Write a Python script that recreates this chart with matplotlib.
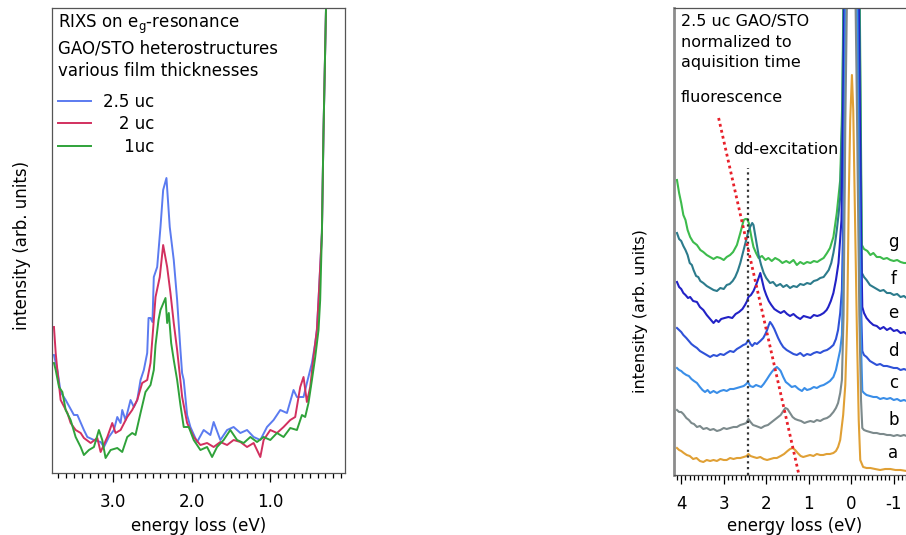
import numpy as np
import matplotlib
matplotlib.use('Agg')
import matplotlib.pyplot as plt
from matplotlib.ticker import MultipleLocator

plt.rcParams['font.family'] = ['DejaVu Sans']
plt.rcParams['font.size'] = 12
plt.rcParams['axes.unicode_minus'] = False

# --- left panel: thickness series (energy loss eV, intensity arb.) ---
uc25 = [(3.755, 1.18), (3.712, 1.03), (3.670, 0.81), (3.606, 0.73), (3.501, 0.58), (3.457, 0.58),
        (3.374, 0.43), (3.330, 0.36), (3.246, 0.33), (3.161, 0.31), (3.119, 0.26), (3.056, 0.36),
        (2.992, 0.43), (2.949, 0.56), (2.907, 0.50), (2.886, 0.63), (2.844, 0.53), (2.780, 0.73),
        (2.738, 0.66), (2.695, 0.73), (2.653, 0.93), (2.611, 1.03), (2.568, 1.20), (2.551, 1.55),
        (2.526, 1.55), (2.501, 1.51), (2.484, 1.96), (2.441, 2.06), (2.399, 2.46), (2.365, 2.83),
        (2.323, 2.95), (2.281, 2.46), (2.230, 2.13), (2.187, 1.73), (2.145, 1.23), (2.124, 1.00),
        (2.103, 0.93), (2.060, 0.58), (2.018, 0.46), (1.933, 0.31), (1.849, 0.43), (1.764, 0.38),
        (1.722, 0.51), (1.637, 0.33), (1.551, 0.43), (1.468, 0.46), (1.382, 0.40), (1.297, 0.43),
        (1.213, 0.36), (1.128, 0.33), (1.043, 0.46), (0.959, 0.53), (0.874, 0.63), (0.789, 0.60),
        (0.705, 0.83), (0.662, 0.76), (0.578, 0.76), (0.535, 0.90), (0.471, 1.10), (0.429, 1.30),
        (0.408, 1.43), (0.387, 1.73), (0.344, 2.40), (0.324, 3.40), (0.293, 4.60), (0.277, 5.13)]
uc2 = [(3.755, 1.46), (3.733, 1.20), (3.712, 1.03), (3.670, 0.73), (3.584, 0.60), (3.543, 0.50),
       (3.479, 0.43), (3.415, 0.40), (3.374, 0.35), (3.288, 0.30), (3.203, 0.35), (3.161, 0.21),
       (3.076, 0.36), (3.013, 0.50), (2.971, 0.40), (2.907, 0.43), (2.822, 0.56), (2.759, 0.63),
       (2.695, 0.73), (2.632, 0.90), (2.568, 0.93), (2.526, 1.10), (2.484, 1.53), (2.462, 1.76),
       (2.408, 1.96), (2.365, 2.28), (2.314, 2.06), (2.272, 1.80), (2.230, 1.50), (2.187, 1.23),
       (2.123, 0.76), (2.060, 0.50), (1.976, 0.36), (1.891, 0.28), (1.806, 0.30), (1.722, 0.26),
       (1.637, 0.31), (1.551, 0.28), (1.468, 0.33), (1.382, 0.31), (1.297, 0.26), (1.213, 0.30),
       (1.128, 0.16), (1.086, 0.33), (1.001, 0.43), (0.916, 0.40), (0.832, 0.46), (0.747, 0.53),
       (0.684, 0.56), (0.620, 0.86), (0.578, 0.96), (0.535, 0.71), (0.493, 0.86), (0.451, 1.16),
       (0.408, 1.43), (0.387, 1.73), (0.344, 2.40), (0.324, 3.40), (0.293, 4.60), (0.277, 5.13)]
uc1 = [(3.755, 1.10), (3.733, 1.03), (3.691, 0.86), (3.648, 0.81), (3.606, 0.63), (3.543, 0.53),
       (3.479, 0.36), (3.415, 0.26), (3.374, 0.18), (3.310, 0.23), (3.246, 0.26), (3.183, 0.43),
       (3.140, 0.33), (3.098, 0.15), (3.034, 0.23), (2.949, 0.25), (2.886, 0.21), (2.822, 0.36),
       (2.759, 0.40), (2.717, 0.38), (2.653, 0.60), (2.590, 0.81), (2.526, 0.88), (2.484, 1.03),
       (2.462, 1.28), (2.424, 1.53), (2.399, 1.63), (2.335, 1.75), (2.314, 1.50), (2.293, 1.60),
       (2.263, 1.30), (2.230, 1.13), (2.187, 0.93), (2.145, 0.68), (2.103, 0.46), (2.039, 0.46),
       (1.976, 0.33), (1.891, 0.23), (1.806, 0.26), (1.742, 0.16), (1.679, 0.26), (1.595, 0.33),
       (1.510, 0.43), (1.424, 0.33), (1.340, 0.30), (1.255, 0.36), (1.170, 0.31), (1.086, 0.36),
       (1.001, 0.33), (0.916, 0.40), (0.832, 0.36), (0.747, 0.45), (0.662, 0.43), (0.598, 0.58),
       (0.557, 0.56), (0.515, 0.70), (0.471, 0.93), (0.429, 1.16), (0.387, 1.43), (0.366, 1.73),
       (0.344, 2.40), (0.324, 3.40), (0.293, 4.60), (0.277, 5.13)]
LEFT_LABELS = ['2.5 uc', '\u2008\u20072 uc', '\u2008\u2007 1uc']
LEFT_COLORS = ['#5b7bf0', '#d2305f', '#2fa23a']
LEFT_TICKS = [3.0, 2.0, 1.0]

# --- right panel: 2.5 uc spectra a..g ---
sp_g = [(4.10, 2.95), (4.05, 2.82), (4.00, 2.72), (3.95, 2.60), (3.90, 2.55), (3.85, 2.45), (3.79, 2.38),
        (3.72, 2.33), (3.63, 2.30), (3.55, 2.25), (3.48, 2.23), (3.40, 2.20), (3.32, 2.18), (3.24, 2.16),
        (3.16, 2.18), (3.08, 2.17), (3.00, 2.15), (2.93, 2.18), (2.85, 2.20), (2.78, 2.23), (2.69, 2.30),
        (2.61, 2.42), (2.53, 2.55), (2.49, 2.56), (2.45, 2.56), (2.41, 2.52), (2.38, 2.45), (2.34, 2.36),
        (2.30, 2.28), (2.24, 2.22), (2.18, 2.17), (2.10, 2.19), (2.02, 2.15), (1.95, 2.17), (1.87, 2.14),
        (1.79, 2.17), (1.70, 2.15), (1.62, 2.12), (1.53, 2.14), (1.45, 2.12), (1.36, 2.15), (1.28, 2.10),
        (1.20, 2.13), (1.12, 2.11), (1.04, 2.13), (0.96, 2.12), (0.88, 2.14), (0.80, 2.13), (0.73, 2.15),
        (0.65, 2.17), (0.57, 2.22), (0.50, 2.27), (0.42, 2.38), (0.34, 2.62), (0.26, 2.95), (0.21, 3.75),
        (0.16, 5.75), (0.08, 9.75), (0.0, 12.75), (-0.10, 9.75), (-0.18, 5.75), (-0.22, 3.75),
        (-0.25, 2.30), (-0.30, 2.26), (-0.38, 2.24), (-0.45, 2.20), (-0.52, 2.22), (-0.60, 2.18),
        (-0.68, 2.18), (-0.76, 2.16), (-0.84, 2.17), (-0.92, 2.15), (-1.00, 2.14), (-1.08, 2.15),
        (-1.16, 2.13), (-1.24, 2.12), (-1.30, 2.12)]
sp_f = [(4.10, 2.42), (4.05, 2.36), (4.00, 2.34), (3.95, 2.29), (3.90, 2.25), (3.85, 2.20), (3.80, 2.12),
        (3.75, 2.10), (3.71, 2.05), (3.65, 1.99), (3.60, 1.98), (3.55, 1.94), (3.48, 1.92), (3.40, 1.89),
        (3.32, 1.87), (3.24, 1.85), (3.16, 1.84), (3.08, 1.87), (3.00, 1.86), (2.93, 1.90), (2.86, 1.91),
        (2.79, 1.94), (2.73, 1.98), (2.67, 2.04), (2.61, 2.12), (2.55, 2.22), (2.49, 2.32), (2.43, 2.42),
        (2.38, 2.48), (2.33, 2.52), (2.30, 2.50), (2.26, 2.40), (2.22, 2.30), (2.18, 2.20), (2.12, 2.10),
        (2.06, 2.02), (2.00, 1.97), (1.91, 1.92), (1.84, 1.93), (1.76, 1.89), (1.67, 1.91), (1.60, 1.88),
        (1.52, 1.90), (1.44, 1.87), (1.36, 1.89), (1.28, 1.88), (1.20, 1.91), (1.12, 1.90), (1.04, 1.92),
        (0.96, 1.91), (0.88, 1.94), (0.80, 1.95), (0.73, 1.97), (0.65, 1.98), (0.58, 2.02), (0.53, 2.05),
        (0.47, 2.12), (0.42, 2.22), (0.38, 2.32), (0.34, 2.45), (0.30, 2.60), (0.26, 2.78), (0.21, 3.6),
        (0.16, 5.5), (0.08, 9.0), (0.0, 12.0), (-0.10, 9.0), (-0.18, 5.5), (-0.22, 3.4), (-0.25, 2.02),
        (-0.30, 1.98), (-0.36, 1.95), (-0.44, 1.90), (-0.52, 1.88), (-0.60, 1.86), (-0.68, 1.84),
        (-0.76, 1.85), (-0.84, 1.82), (-0.92, 1.82), (-1.00, 1.80), (-1.08, 1.81), (-1.16, 1.78),
        (-1.24, 1.79), (-1.30, 1.77)]
sp_e = [(4.10, 1.93), (4.05, 1.88), (4.00, 1.86), (3.95, 1.82), (3.90, 1.80), (3.84, 1.77), (3.79, 1.78),
        (3.72, 1.74), (3.63, 1.73), (3.56, 1.68), (3.48, 1.65), (3.40, 1.60), (3.32, 1.56), (3.24, 1.52),
        (3.18, 1.55), (3.12, 1.53), (3.06, 1.56), (2.98, 1.57), (2.89, 1.58), (2.80, 1.57), (2.72, 1.61),
        (2.64, 1.63), (2.56, 1.66), (2.50, 1.70), (2.45, 1.74), (2.42, 1.78), (2.36, 1.80), (2.30, 1.84),
        (2.24, 1.90), (2.18, 1.97), (2.14, 2.02), (2.10, 1.95), (2.05, 1.86), (2.00, 1.80), (1.94, 1.74),
        (1.88, 1.70), (1.81, 1.66), (1.74, 1.64), (1.66, 1.62), (1.58, 1.64), (1.51, 1.61), (1.44, 1.59),
        (1.36, 1.61), (1.28, 1.58), (1.20, 1.56), (1.12, 1.59), (1.04, 1.58), (0.96, 1.57), (0.88, 1.60),
        (0.80, 1.59), (0.73, 1.60), (0.65, 1.62), (0.58, 1.65), (0.54, 1.68), (0.48, 1.74), (0.42, 1.82),
        (0.36, 1.95), (0.30, 2.12), (0.23, 2.55), (0.18, 4.0), (0.11, 7.0), (0.0, 11.0), (-0.11, 7.5),
        (-0.19, 4.2), (-0.23, 2.4), (-0.26, 1.68), (-0.30, 1.62), (-0.36, 1.57), (-0.44, 1.53),
        (-0.52, 1.50), (-0.60, 1.49), (-0.68, 1.46), (-0.76, 1.48), (-0.84, 1.45), (-0.92, 1.47),
        (-1.00, 1.44), (-1.08, 1.45), (-1.16, 1.42), (-1.24, 1.43), (-1.30, 1.41)]
sp_d = [(4.10, 1.47), (4.05, 1.45), (4.00, 1.43), (3.95, 1.40), (3.88, 1.37), (3.82, 1.34), (3.76, 1.31),
        (3.70, 1.29), (3.63, 1.27), (3.56, 1.24), (3.48, 1.22), (3.40, 1.20), (3.32, 1.18), (3.24, 1.20),
        (3.16, 1.19), (3.08, 1.21), (3.00, 1.20), (2.93, 1.22), (2.85, 1.24), (2.77, 1.23), (2.69, 1.26),
        (2.61, 1.28), (2.54, 1.30), (2.48, 1.31), (2.42, 1.35), (2.37, 1.31), (2.33, 1.29), (2.27, 1.32),
        (2.22, 1.31), (2.14, 1.34), (2.07, 1.37), (2.02, 1.41), (1.98, 1.45), (1.94, 1.50), (1.91, 1.53),
        (1.86, 1.50), (1.81, 1.46), (1.76, 1.41), (1.72, 1.37), (1.66, 1.32), (1.60, 1.28), (1.52, 1.25),
        (1.44, 1.23), (1.36, 1.21), (1.28, 1.20), (1.20, 1.22), (1.12, 1.19), (1.04, 1.21), (0.96, 1.20),
        (0.88, 1.22), (0.81, 1.23), (0.73, 1.22), (0.65, 1.24), (0.57, 1.25), (0.50, 1.27), (0.42, 1.30),
        (0.36, 1.36), (0.31, 1.45), (0.26, 1.62), (0.22, 1.85), (0.18, 2.75), (0.12, 5.5), (0.0, 10.0),
        (-0.12, 6.0), (-0.19, 3.0), (-0.23, 1.7), (-0.26, 1.24), (-0.30, 1.20), (-0.36, 1.18),
        (-0.44, 1.14), (-0.52, 1.12), (-0.60, 1.10), (-0.68, 1.11), (-0.76, 1.09), (-0.84, 1.09),
        (-0.92, 1.08), (-1.00, 1.07), (-1.08, 1.07), (-1.16, 1.05), (-1.24, 1.06), (-1.30, 1.05)]
sp_c = [(4.10, 1.07), (4.05, 1.05), (4.00, 1.04), (3.95, 1.02), (3.88, 1.00), (3.82, 0.99), (3.76, 0.96),
        (3.70, 0.94), (3.63, 0.92), (3.56, 0.88), (3.50, 0.85), (3.44, 0.83), (3.38, 0.85), (3.32, 0.82),
        (3.24, 0.84), (3.16, 0.82), (3.08, 0.84), (3.00, 0.85), (2.93, 0.84), (2.85, 0.86), (2.77, 0.86),
        (2.69, 0.87), (2.61, 0.88), (2.53, 0.89), (2.47, 0.91), (2.43, 0.93), (2.38, 0.89), (2.31, 0.88),
        (2.24, 0.90), (2.18, 0.89), (2.12, 0.88), (2.06, 0.91), (1.98, 0.96), (1.92, 1.00), (1.87, 1.03),
        (1.81, 1.06), (1.75, 1.08), (1.70, 1.06), (1.66, 1.04), (1.60, 0.98), (1.54, 0.93), (1.48, 0.91),
        (1.40, 0.88), (1.32, 0.89), (1.24, 0.86), (1.16, 0.84), (1.10, 0.87), (1.04, 0.85), (0.96, 0.86),
        (0.88, 0.88), (0.81, 0.87), (0.73, 0.89), (0.65, 0.90), (0.57, 0.92), (0.50, 0.94), (0.42, 0.98),
        (0.36, 1.05), (0.31, 1.15), (0.26, 1.25), (0.22, 1.40), (0.18, 2.2), (0.13, 4.8), (0.0, 9.0),
        (-0.12, 5.2), (-0.19, 2.6), (-0.23, 1.3), (-0.26, 0.84), (-0.30, 0.82), (-0.36, 0.80),
        (-0.44, 0.79), (-0.52, 0.78), (-0.60, 0.78), (-0.68, 0.76), (-0.76, 0.77), (-0.84, 0.76),
        (-0.92, 0.77), (-1.00, 0.75), (-1.08, 0.76), (-1.16, 0.74), (-1.24, 0.75), (-1.30, 0.74)]
sp_b = [(4.10, 0.65), (4.05, 0.63), (4.00, 0.63), (3.95, 0.61), (3.88, 0.57), (3.82, 0.55), (3.76, 0.52),
        (3.70, 0.51), (3.63, 0.48), (3.56, 0.49), (3.48, 0.46), (3.40, 0.47), (3.32, 0.45), (3.24, 0.46),
        (3.16, 0.44), (3.08, 0.45), (3.00, 0.47), (2.93, 0.46), (2.85, 0.47), (2.77, 0.48), (2.69, 0.48),
        (2.61, 0.50), (2.53, 0.51), (2.47, 0.52), (2.42, 0.56), (2.37, 0.53), (2.31, 0.50), (2.24, 0.49),
        (2.18, 0.48), (2.12, 0.47), (2.04, 0.49), (1.96, 0.50), (1.90, 0.52), (1.84, 0.54), (1.78, 0.56),
        (1.72, 0.58), (1.66, 0.60), (1.60, 0.64), (1.55, 0.67), (1.50, 0.66), (1.44, 0.62), (1.38, 0.58),
        (1.32, 0.56), (1.26, 0.55), (1.18, 0.54), (1.10, 0.52), (1.04, 0.53), (0.96, 0.54), (0.88, 0.53),
        (0.81, 0.55), (0.73, 0.54), (0.65, 0.56), (0.57, 0.57), (0.50, 0.59), (0.42, 0.63), (0.36, 0.67),
        (0.31, 0.72), (0.26, 0.82), (0.22, 0.95), (0.18, 1.6), (0.14, 3.5), (0.0, 8.0), (-0.13, 3.8),
        (-0.19, 1.6), (-0.23, 0.75), (-0.26, 0.47), (-0.30, 0.45), (-0.36, 0.44), (-0.44, 0.43),
        (-0.52, 0.42), (-0.60, 0.42), (-0.68, 0.41), (-0.76, 0.41), (-0.84, 0.40), (-0.92, 0.40),
        (-1.00, 0.39), (-1.08, 0.40), (-1.16, 0.39), (-1.24, 0.40), (-1.30, 0.39)]
sp_a = [(4.10, 0.27), (4.05, 0.25), (4.00, 0.24), (3.94, 0.22), (3.87, 0.20), (3.80, 0.19), (3.72, 0.16),
        (3.64, 0.17), (3.56, 0.14), (3.48, 0.13), (3.40, 0.15), (3.32, 0.14), (3.24, 0.15), (3.16, 0.14),
        (3.08, 0.16), (3.00, 0.15), (2.93, 0.15), (2.85, 0.17), (2.77, 0.16), (2.69, 0.17), (2.61, 0.17),
        (2.53, 0.18), (2.46, 0.19), (2.42, 0.21), (2.37, 0.19), (2.30, 0.18), (2.22, 0.17), (2.14, 0.18),
        (2.06, 0.16), (1.98, 0.15), (1.90, 0.16), (1.82, 0.17), (1.75, 0.17), (1.66, 0.19), (1.58, 0.21),
        (1.50, 0.24), (1.44, 0.26), (1.38, 0.27), (1.32, 0.25), (1.26, 0.22), (1.19, 0.19), (1.13, 0.18),
        (1.05, 0.19), (0.97, 0.20), (0.89, 0.19), (0.81, 0.21), (0.73, 0.20), (0.66, 0.20), (0.58, 0.21),
        (0.50, 0.21), (0.42, 0.22), (0.36, 0.24), (0.31, 0.28), (0.26, 0.35), (0.19, 0.60), (0.14, 0.90),
        (0.094, 1.55), (0.059, 2.75), (0.024, 3.55), (-0.016, 4.00), (-0.047, 3.65), (-0.082, 2.75),
        (-0.134, 1.42), (-0.176, 0.55), (-0.212, 0.15), (-0.28, 0.08), (-0.36, 0.07), (-0.45, 0.07),
        (-0.56, 0.06), (-0.68, 0.05), (-0.80, 0.06), (-0.92, 0.06), (-1.04, 0.05), (-1.16, 0.05),
        (-1.30, 0.04)]
RIGHT_SPECTRA = [sp_g, sp_f, sp_e, sp_d, sp_c, sp_b, sp_a]
RIGHT_NAMES = ['g', 'f', 'e', 'd', 'c', 'b', 'a']
RIGHT_COLORS = ['#3dbb4c', '#2c7b8c', '#2222c6', '#2f52d8', '#3a8ee8', '#7c8a8c', '#e0a035']
NAME_LEVELS = [2.33, 1.96, 1.62, 1.24, 0.92, 0.55, 0.22]   # heights of the a..g tags
NAME_E = -0.99
DD_E = 2.42
DD_TOP = 3.07
FLUO_E = [3.12, 1.24]
FLUO_I = [3.57, 0.02]
RIGHT_TICKS = [4, 3, 2, 1, 0, -1]

fig = plt.figure(figsize=(9.06, 5.35), dpi=100)

# ---------- left panel ----------
ax1 = fig.add_axes([52 / 906, 62 / 535, 293 / 906, 465 / 535])
for pairs, col, lab in zip([uc25, uc2, uc1], LEFT_COLORS, LEFT_LABELS):
    e, i = np.array(pairs).T
    ax1.plot(e, i, color=col, lw=1.4, label=lab)
ax1.set_xlim(3.78, 0.05)
ax1.set_ylim(0, 4.65)
ax1.set_xticks(LEFT_TICKS)
ax1.set_xticklabels([f'{t:.1f}' for t in LEFT_TICKS])
ax1.xaxis.set_minor_locator(MultipleLocator(0.1))
ax1.set_yticks([])
ax1.tick_params(axis='x', which='major', direction='out', length=6.5, width=0.9, pad=8, labelsize=12)
ax1.tick_params(axis='x', which='minor', direction='out', length=3.5, width=0.9)
for s in ax1.spines.values():
    s.set_color('#555555')
    s.set_linewidth(0.9)
ax1.set_xlabel('energy loss (eV)', fontsize=12, labelpad=4)
ax1.set_ylabel('intensity (arb. units)', fontsize=12)
ax1.yaxis.set_label_coords(-0.072, 0.49)

ax1.text(0.02, 0.957, 'RIXS on e$_\\mathregular{g}$-resonance', transform=ax1.transAxes, va='baseline')
ax1.text(0.02, 0.903, 'GAO/STO heterostructures', transform=ax1.transAxes, va='baseline')
ax1.text(0.02, 0.854, 'various film thicknesses', transform=ax1.transAxes, va='baseline')
ax1.legend(loc='upper left', bbox_to_anchor=(0.02, 0.818), frameon=False, borderpad=0,
           borderaxespad=0, handlelength=2.0, handletextpad=0.7, labelspacing=0.28, fontsize=12)

# ---------- right panel ----------
ax2 = fig.add_axes([674 / 906, 60 / 535, 241 / 906, 467 / 535])
for pairs, col in zip(RIGHT_SPECTRA, RIGHT_COLORS):
    e, i = np.array(pairs).T
    ax2.plot(e, i, color=col, lw=1.5)
ax2.plot([DD_E, DD_E], [0, DD_TOP], color='#333333', lw=1.6, ls=(0, (1, 1.6)))
ax2.plot(FLUO_E, FLUO_I, color='#e8202a', lw=2.0, ls=(0, (1, 1.2)))
for nm, lv in zip(RIGHT_NAMES, NAME_LEVELS):
    ax2.text(NAME_E, lv, nm, ha='center', va='center', fontsize=12)

ax2.set_xlim(4.17, -1.5)
ax2.set_ylim(0, 4.67)
ax2.set_xticks(RIGHT_TICKS)
ax2.set_xticklabels([str(t) for t in RIGHT_TICKS])
ax2.xaxis.set_minor_locator(MultipleLocator(0.1))
ax2.set_yticks([])
ax2.tick_params(axis='x', which='major', direction='out', length=6.5, width=0.9, pad=8, labelsize=12)
ax2.tick_params(axis='x', which='minor', direction='out', length=3.5, width=0.9)
for s in ax2.spines.values():
    s.set_color('#555555')
    s.set_linewidth(0.9)
ax2.spines['left'].set_color('#8c8c8c')
ax2.spines['left'].set_linewidth(2.0)
ax2.set_xlabel('energy loss (eV)', fontsize=12, labelpad=3)
ax2.set_ylabel('intensity (arb. units)', fontsize=11.5)
ax2.yaxis.set_label_coords(-0.108, 0.35)

RT = 11.5
ax2.text(0.029, 0.961, '2.5 uc GAO/STO', transform=ax2.transAxes, va='baseline', fontsize=RT)
ax2.text(0.029, 0.9165, 'normalized to', transform=ax2.transAxes, va='baseline', fontsize=RT)
ax2.text(0.029, 0.874, 'aquisition time', transform=ax2.transAxes, va='baseline', fontsize=RT)
ax2.text(0.029, 0.799, 'fluorescence', transform=ax2.transAxes, va='baseline', fontsize=RT)
ax2.text(0.245, 0.687, 'dd-excitation', transform=ax2.transAxes, va='baseline', fontsize=RT)

fig.savefig('out.png', dpi=100)
